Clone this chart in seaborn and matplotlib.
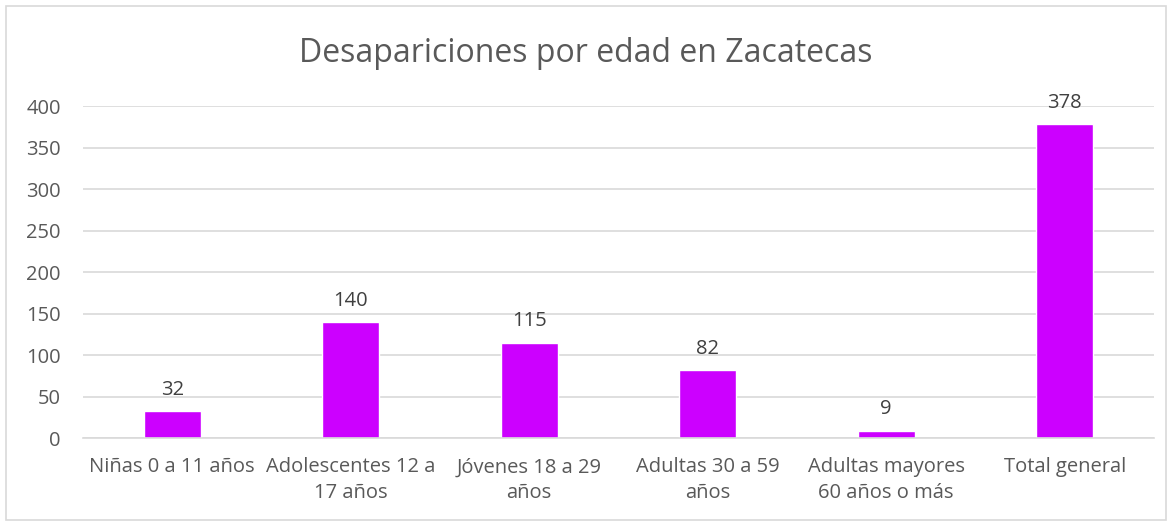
import matplotlib
matplotlib.use("Agg")
import matplotlib.pyplot as plt
import matplotlib.patches as mpatches
import pandas as pd
import seaborn as sns

# data
categorias = ["Niñas 0 a 11 años", "Adolescentes 12 a\n17 años", "Jóvenes 18 a 29\naños",
              "Adultas 30 a 59\naños", "Adultas mayores\n60 años o más", "Total general"]
valores = [32, 140, 115, 82, 9, 378]
y_ticks = [0, 50, 100, 150, 200, 250, 300, 350, 400]

df = pd.DataFrame({"Categoria": categorias, "Valor": valores})

sns.set_theme(style="white")
plt.rcParams["font.family"] = ["Open Sans", "DejaVu Sans"]

gris = "#595959"
fig = plt.figure(figsize=(11.72, 5.25), dpi=100)
ax = fig.add_axes([0.0708, 0.1657, 0.9138, 0.6323])

sns.barplot(data=df, x="Categoria", y="Valor", color="#CC00FF", saturation=1,
            width=0.32, ax=ax)

for c in ax.containers:
    ax.bar_label(c, padding=8, fontsize=14.5, color="#404040")

ax.set_ylim(0, 400)
ax.set_yticks(y_ticks)
ax.set_xlim(-0.5, len(categorias) - 0.5)
ax.yaxis.grid(True, color="#D9D9D9", linewidth=1.2)
ax.set_axisbelow(True)
for s in ["top", "right", "left"]:
    ax.spines[s].set_visible(False)
ax.spines["bottom"].set_color("#D9D9D9")
ax.spines["bottom"].set_linewidth(1.2)
ax.tick_params(axis="both", length=0, labelsize=14.5, labelcolor=gris)
ax.tick_params(axis="x", pad=14)
ax.tick_params(axis="y", pad=16)
for lbl in ax.get_xticklabels():
    lbl.set_linespacing(1.4)
ax.set_xlabel("")
ax.set_ylabel("")

fig.text(0.5, 0.898, "Desapariciones por edad en Zacatecas", ha="center", va="center",
         fontsize=23, color=gris)

# outer chart border
fig.patches.append(mpatches.Rectangle((6 / 1172, 5 / 525), 1160 / 1172, 514 / 525,
                                      transform=fig.transFigure, fill=False,
                                      edgecolor="#D9D9D9", linewidth=1.2))

fig.savefig("out.png", dpi=100)
